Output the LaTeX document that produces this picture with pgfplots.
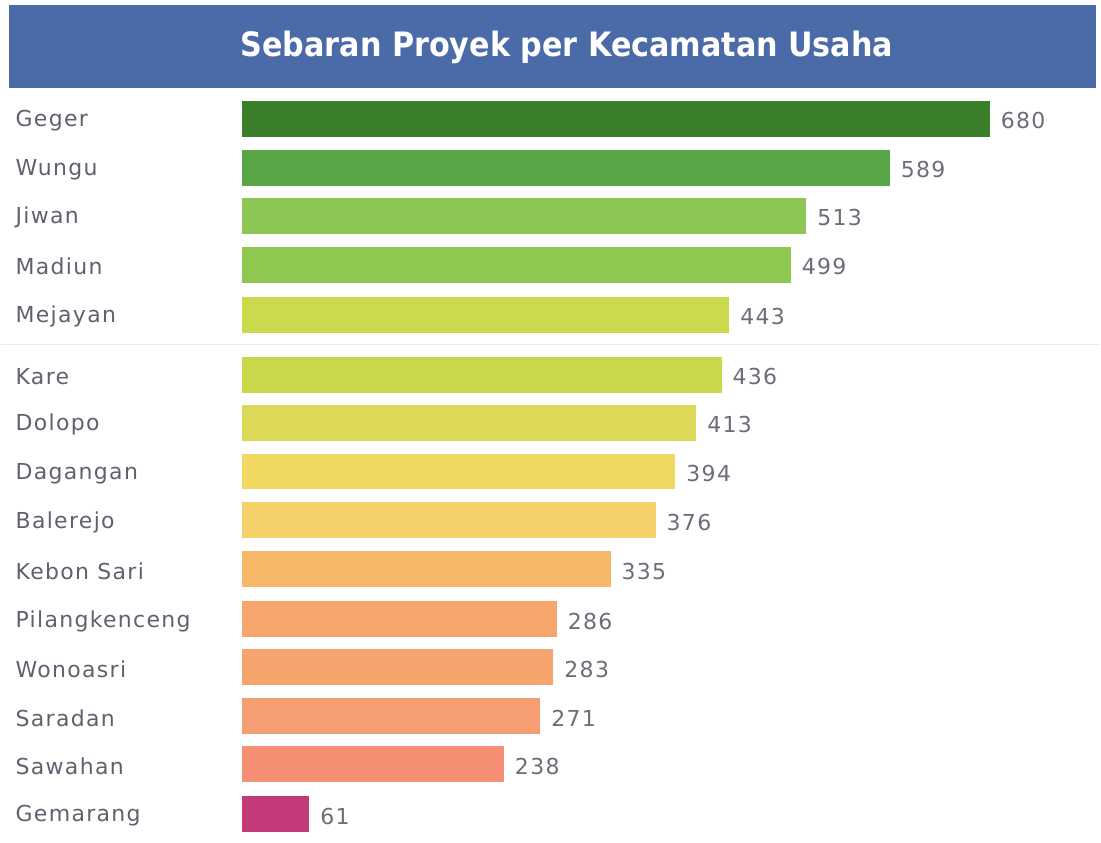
\documentclass[border=0pt]{standalone}
\usepackage{pgfplots}
\pgfplotsset{compat=1.18}
\usepackage{fontspec}
\setmainfont{DejaVu Sans}
\newfontfamily\titlefont{DejaVu Sans Condensed}
\newfontfamily\lblfont[LetterSpace=6]{DejaVu Sans}
\definecolor{banner}{HTML}{4B6AA8}
\definecolor{lbl}{HTML}{665E6E}
\definecolor{val}{HTML}{6E6C78}
\definecolor{c1}{HTML}{3B7F2A}
\definecolor{c2}{HTML}{58A545}
\definecolor{c3}{HTML}{8BC655}
\definecolor{c4}{HTML}{8EC850}
\definecolor{c5}{HTML}{CBD94C}
\definecolor{c6}{HTML}{C8D84A}
\definecolor{c7}{HTML}{DCD858}
\definecolor{c8}{HTML}{F1D862}
\definecolor{c9}{HTML}{F3D068}
\definecolor{c10}{HTML}{F6B868}
\definecolor{c11}{HTML}{F6A66C}
\definecolor{c12}{HTML}{F6A46E}
\definecolor{c13}{HTML}{F59E72}
\definecolor{c14}{HTML}{F58E72}
\definecolor{c15}{HTML}{C23A78}
\begin{document}
\begin{tikzpicture}
\path (0,0) rectangle (550.5pt,421.5pt);
\fill[banner] (4pt,377.5pt) rectangle (548.5pt,419pt);
\node[text=white, font=\titlefont\bfseries\fontsize{16.8}{19}\selectfont] at (283.5pt,398pt) {Sebaran Proyek per Kecamatan Usaha};
\draw[black!8, line width=0.6pt] (0pt,249pt) -- (550.5pt,249pt);
\begin{axis}[
  at={(121pt,1.5pt)}, anchor=south west,
  scale only axis, width=427.5pt, height=372.5pt,
  xmin=0, xmax=777, ymin=-840, ymax=-95,
  axis line style={draw=none},
  xtick=\empty,
  ytick={-119,-168,-216,-265,-315,-375,-423,-472,-521,-570,-620,-668,-717,-765,-815},
  yticklabels={Geger,Wungu,Jiwan,Madiun,Mejayan,Kare,Dolopo,Dagangan,Balerejo,Kebon Sari,Pilangkenceng,Wonoasri,Saradan,Sawahan,Gemarang},
  major tick length=0pt,
  yticklabel style={anchor=west, xshift=-117pt, yshift=-1pt, text=lbl, font=\lblfont\fontsize{11}{13}\selectfont},
  /pgf/number format/assume math mode=true,
  /pgf/bar shift=0pt,
  bar width=18pt,
  every axis plot/.append style={xbar, draw=none, nodes near coords,
    nodes near coords style={anchor=west, xshift=2pt, yshift=-1pt, text=val, font=\lblfont\fontsize{11}{13}\selectfont},
    point meta=x},
  clip=false,
]
\addplot[fill=c1] coordinates {(680,-119)};
\addplot[fill=c2] coordinates {(589,-168)};
\addplot[fill=c3] coordinates {(513,-216)};
\addplot[fill=c4] coordinates {(499,-265)};
\addplot[fill=c5] coordinates {(443,-315)};
\addplot[fill=c6] coordinates {(436,-375)};
\addplot[fill=c7] coordinates {(413,-423)};
\addplot[fill=c8] coordinates {(394,-472)};
\addplot[fill=c9] coordinates {(376,-521)};
\addplot[fill=c10] coordinates {(335,-570)};
\addplot[fill=c11] coordinates {(286,-620)};
\addplot[fill=c12] coordinates {(283,-668)};
\addplot[fill=c13] coordinates {(271,-717)};
\addplot[fill=c14] coordinates {(238,-765)};
\addplot[fill=c15] coordinates {(61,-815)};
\end{axis}
\end{tikzpicture}
\end{document}
